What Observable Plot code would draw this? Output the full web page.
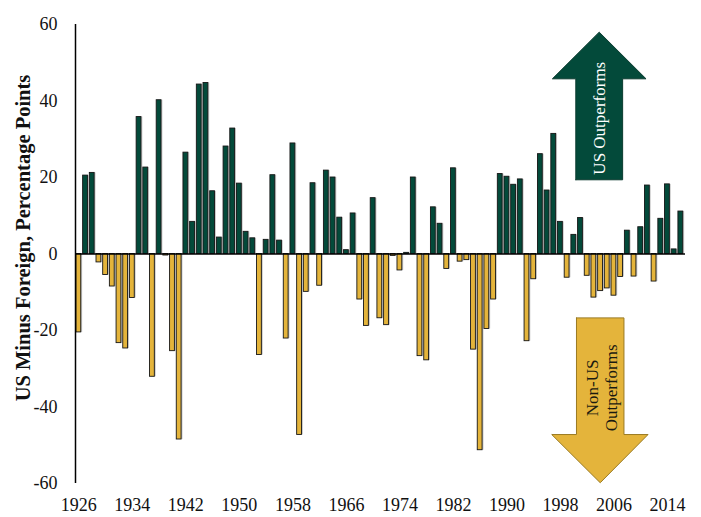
<!DOCTYPE html>
<html>
<head>
<meta charset="utf-8">
<script src="https://cdn.jsdelivr.net/npm/d3@7"></script>
<script src="https://cdn.jsdelivr.net/npm/@observablehq/plot@0.6"></script>
<style>
  html, body { margin: 0; padding: 0; background: #fff; }
  #chart { width: 701px; height: 517px; }
</style>
</head>
<body>
<div id="chart"></div>
<script>
// Years (categories)
const years = d3.range(1926, 2017);
// US minus foreign return, percentage points
const diffs = [
  -20.5, 20.5, 21.2, -2.2, -5.5, -8.5, -23.3, -24.7, -11.5, 35.8,
  22.6, -32.1, 40.2, -0.4, -25.4, -48.5, 26.5, 8.4, 44.3, 44.7,
  16.4, 4.3, 28.1, 32.8, 18.4, 5.8, 4.1, -26.4, 3.7, 20.6,
  3.5, -22.1, 28.9, -47.3, -9.9, 18.5, -8.3, 21.8, 20.0, 9.5,
  1.0, 10.6, -11.9, -18.8, 14.6, -16.8, -18.6, -0.5, -4.3, 0.3,
  20.0, -26.7, -27.8, 12.2, 7.9, -3.9, 22.4, -2.0, -1.6, -25.0,
  -51.3, -19.6, -11.9, 20.9, 20.2, 18.1, 19.5, -22.8, -6.6, 26.1,
  16.6, 31.4, 8.4, -6.2, 5.0, 9.4, -5.7, -11.4, -9.7, -9.0,
  -10.9, -6.0, 6.1, -5.9, 7.0, 17.9, -7.2, 9.2, 18.2, 1.2,
  11.1
];
// Axis ticks
const xTicks = d3.range(1926, 2015, 8);
const yTicks = [-60, -40, -20, 0, 20, 40, 60];

// Annotation arrows (data coordinates: year, percentage points)
const upArrowX = [2000.3, 2000.3, 1996.8, 2003.8, 2010.8, 2007.3, 2007.3, 2000.3];
const upArrowY = [19.4, 45.8, 45.8, 58.0, 45.8, 45.8, 19.4, 19.4];
const downArrowX = [2000.4, 2000.4, 1996.7, 2003.95, 2011.1, 2007.5, 2007.5, 2000.4];
const downArrowY = [-16.7, -47.2, -47.2, -59.8, -47.2, -47.2, -16.7, -16.7];
const upLabel = "US Outperforms";
const downLabel = "Non-US\nOutperforms";

const green = "#034a3a";
const gold = "#e4b43b";

const data = years.map((year, i) => ({year, value: diffs[i]}));
const upArrow = upArrowX.map((x, i) => ({x, y: upArrowY[i]}));
const downArrow = downArrowX.map((x, i) => ({x, y: downArrowY[i]}));
const half = 0.36;

const chart = Plot.plot({
  width: 701,
  height: 517,
  marginLeft: 75,
  marginRight: 16,
  marginTop: 24,
  marginBottom: 34,
  style: {fontFamily: "'Liberation Serif', serif", fontSize: "18px", color: "#111", background: "white"},
  x: {domain: [1925.5, 2016.7]},
  y: {domain: [-60, 60]},
  color: {type: "identity"},
  marks: [
    Plot.rect(data, {x1: d => d.year - half, x2: d => d.year + half, y1: 0, y2: "value", fill: "#999", fillOpacity: 0.55, dx: 1.4}),
    Plot.rect(data, {x1: d => d.year - half, x2: d => d.year + half, y1: 0, y2: "value",
      fill: d => d.value >= 0 ? green : gold, stroke: "#161616", strokeWidth: 0.9}),
    Plot.ruleY([0], {stroke: "#000", strokeWidth: 1.5}),
    Plot.ruleX([1925.5], {y1: -60, y2: 60, stroke: "#000", strokeWidth: 1.5}),
    Plot.line(upArrow, {x: "x", y: "y", fill: green, stroke: "#0b3b2f", strokeWidth: 1, curve: "linear"}),
    Plot.line(downArrow, {x: "x", y: "y", fill: gold, stroke: "#9a7a22", strokeWidth: 1, curve: "linear"}),
    Plot.text([upLabel], {x: 2003.9, y: 35.5, text: d => d, rotate: -90, fill: "white", fontSize: 17}),
    Plot.text([downLabel], {x: 2004.1, y: -35.0, text: d => d, rotate: -90, fill: "#1a1a10", fontSize: 17, lineHeight: 1.1}),
    Plot.axisX({ticks: xTicks, tickSize: 0, tickPadding: 15, tickFormat: d => String(d), label: null, fontSize: 18}),
    Plot.axisY({ticks: yTicks, tickSize: 0, tickPadding: 18, tickFormat: d => String(d), label: null, fontSize: 18})
  ]
});

d3.select(chart).append("text")
  .attr("transform", "translate(25,238) rotate(-90)")
  .attr("text-anchor", "middle")
  .attr("dominant-baseline", "middle")
  .attr("font-family", "'Liberation Serif', serif")
  .attr("font-weight", "bold")
  .attr("font-size", 20.5)
  .attr("fill", "#111")
  .text("US Minus Foreign, Percentage Points");

document.getElementById("chart").appendChild(chart);
</script>
</body>
</html>
